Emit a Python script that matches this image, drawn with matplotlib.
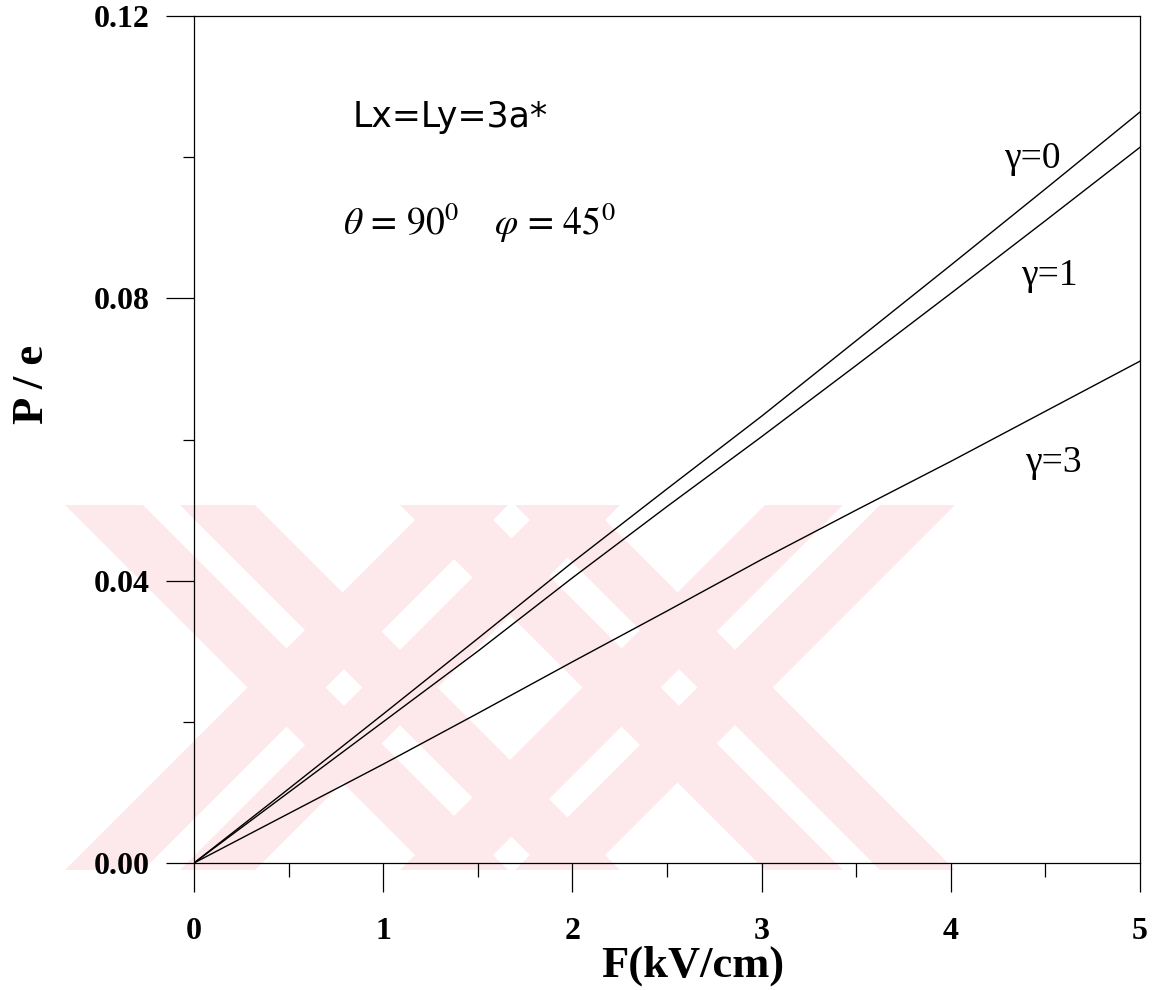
import numpy as np
import matplotlib
matplotlib.use("Agg")
import matplotlib.pyplot as plt
from matplotlib.patches import Polygon
from matplotlib.ticker import MultipleLocator, FormatStrFormatter

plt.rcParams["mathtext.fontset"] = "stix"

# Field strength (kV/cm) and polarization per charge for the three gamma values
F = [0.0, 0.5, 1.0, 1.5, 2.0, 2.5, 3.0, 3.5, 4.0, 4.5, 5.0]
P_g0 = [0.0, 0.0105, 0.0211, 0.0318, 0.0426, 0.0530, 0.0633, 0.0740, 0.0847, 0.0955, 0.1064]
P_g1 = [0.0, 0.0100, 0.0200, 0.0300, 0.0404, 0.0505, 0.0604, 0.0705, 0.0807, 0.0910, 0.1014]
P_g3 = [0.0, 0.0070, 0.0140, 0.0212, 0.0285, 0.0357, 0.0430, 0.0500, 0.0569, 0.0640, 0.0711]

curve_labels = ["γ=0", "γ=1", "γ=3"]
label_pos = [(4.28, 0.0985), (4.37, 0.0819), (4.39, 0.0554)]

serif = "Liberation Serif"

fig = plt.figure(figsize=(11.6, 9.9), dpi=100)
ax = fig.add_axes([194 / 1160, 127 / 990, 946 / 1160, 847 / 990])
ax.set_facecolor("none")

# faint background watermark (two crossed double strokes)
W, H = 1160, 990
y_top, y_bot = 505, 870
pink = "#fde8eb"
def band(x0, x1, lean):
    # parallelogram between y_top and y_bot, leaning by 365 px
    d = y_bot - y_top
    if lean > 0:   # "\" stroke
        pts = [(x0, y_top), (x1, y_top), (x1 + d, y_bot), (x0 + d, y_bot)]
    else:          # "/" stroke
        pts = [(x0 + d, y_top), (x1 + d, y_top), (x1, y_bot), (x0, y_bot)]
    return [(px / W, 1 - py / H) for px, py in pts]

for cx in [65, 400]:
    for lean in [1, -1]:
        for a, b in [(0, 78), (115, 190)]:
            fig.patches.append(Polygon(band(cx + a, cx + b, lean), closed=True,
                                       transform=fig.transFigure, facecolor=pink,
                                       edgecolor="none", zorder=-5))

for P in [P_g0, P_g1, P_g3]:
    ax.plot(F, P, color="black", lw=1.0)

for txt, (x, y) in zip(curve_labels, label_pos):
    ax.text(x, y, txt, fontsize=27, family=serif, ha="left", va="baseline")

ax.text(0.84, 0.1043, "Lx=Ly=3a*", fontsize=25, family="DejaVu Sans",
        ha="left", va="baseline")
ax.text(0.79, 0.0890, r"$\theta\, =\, 90^0\quad\; \varphi\, =\, 45^0$", fontsize=27,
        ha="left", va="baseline")

ax.set_xlim(0, 5)
ax.set_ylim(0, 0.12)
ax.xaxis.set_major_locator(MultipleLocator(1))
ax.xaxis.set_minor_locator(MultipleLocator(0.5))
ax.yaxis.set_major_locator(MultipleLocator(0.04))
ax.yaxis.set_minor_locator(MultipleLocator(0.02))
ax.yaxis.set_major_formatter(FormatStrFormatter("%.2f"))

ax.tick_params(which="major", direction="out", length=20, width=0.9, pad=12)
ax.tick_params(axis="x", which="major", length=21, pad=18)
ax.tick_params(axis="x", which="minor", direction="out", length=10, width=0.9)
ax.tick_params(axis="y", which="minor", direction="out", length=8, width=0.9)

for lab in ax.get_xticklabels() + ax.get_yticklabels():
    lab.set_fontfamily(serif)
    lab.set_fontweight("bold")
    lab.set_fontsize(23)

for s in ax.spines.values():
    s.set_linewidth(0.9)

ax.set_xlabel("F(kV/cm)", fontsize=32, family=serif, fontweight="bold")
ax.set_ylabel("P / e", fontsize=32, family=serif, fontweight="bold")
ax.xaxis.set_label_coords(0.527, -0.097)
ax.yaxis.set_label_coords(-0.150, 0.565)

fig.savefig("out.png", dpi=100)
